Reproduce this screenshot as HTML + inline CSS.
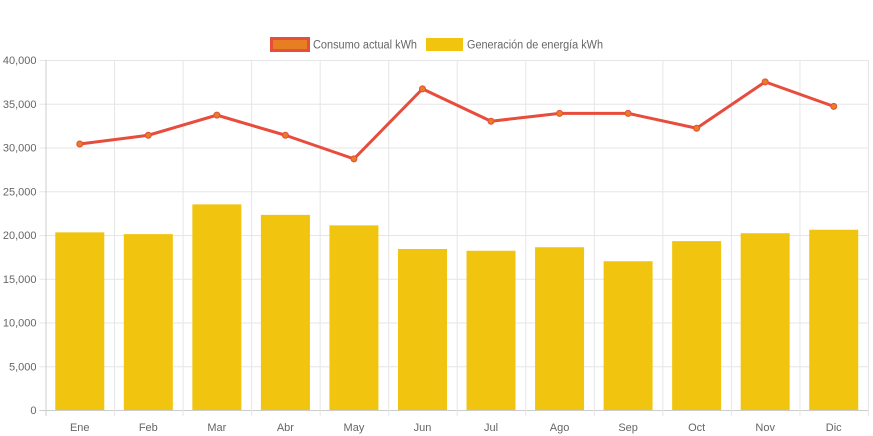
<!DOCTYPE html>
<html><head><meta charset="utf-8"><style>
html,body{margin:0;padding:0;background:#fff;}
svg{display:block;font-family:"Liberation Sans",sans-serif;}
</style></head><body>
<svg id="chart" width="873" height="436" viewBox="0 0 873 436">
<g id="legend">
<g>
<rect x="271.5" y="38.5" width="37" height="12" fill="#e67e22" stroke="#e74c3c" stroke-width="3"/>
<text x="313" y="48.5" font-size="11.5" fill="#666" textLength="104" lengthAdjust="spacingAndGlyphs">Consumo actual kWh</text></g>
<g>
<rect x="426" y="38" width="37" height="13" fill="#f1c40f"/>
<text x="467" y="48.5" font-size="11.5" fill="#666" textLength="136" lengthAdjust="spacingAndGlyphs">Generación de energía kWh</text></g>
</g>
<g id="grid"></g>
<g id="bars"></g>
<g id="line"></g>
<g id="axes"></g>
</svg>
<script>
const categories=["Ene","Feb","Mar","Abr","May","Jun","Jul","Ago","Sep","Oct","Nov","Dic"];
const generacion=[20300,20100,23500,22300,21100,18400,18200,18600,17000,19300,20200,20600];
const consumo=[30400,31400,33700,31400,28700,36700,33000,33900,33900,32200,37500,34700];
const yTicks=[0,5000,10000,15000,20000,25000,30000,35000,40000];
const yTickLabels=["0","5,000","10,000","15,000","20,000","25,000","30,000","35,000","40,000"];
const NS="http://www.w3.org/2000/svg";
const L=45.5,R=868,T=60,B=410,yMax=40000;
const band=(R-L)/categories.length;
const x=i=>L+band*(i+0.5);
const y=v=>B-(v/yMax)*(B-T);
function mk(tag,attrs,parent){const e=document.createElementNS(NS,tag);for(const k in attrs)e.setAttribute(k,attrs[k]);parent.appendChild(e);return e;}
const grid=document.getElementById('grid'),bars=document.getElementById('bars'),line=document.getElementById('line'),axes=document.getElementById('axes');
yTicks.forEach((t,i)=>{
 const g=mk('line',{x1:L-6,x2:R,y1:y(t)+0.5,y2:y(t)+0.5,stroke:i==0?'#ccc':'#e6e6e6','stroke-width':1},grid);
 
 
 const tx=mk('text',{x:L-9,y:y(t)+4,'text-anchor':'end','font-size':11,fill:'#666'},axes);
 tx.textContent=yTickLabels[i];
 
 
});
for(let i=0;i<=categories.length;i++){
 const g=mk('line',{x1:L+band*i+0.5,x2:L+band*i+0.5,y1:T,y2:B+6,stroke:i==0?'#ccc':'#e6e6e6','stroke-width':1},grid);
 
 
}
categories.forEach((c,i)=>{
 const bw=49;
 const r=mk('rect',{x:x(i)-bw/2,y:y(generacion[i]),width:bw,height:B-y(generacion[i]),fill:'#f1c40f'},bars);
 
 
 const tx=mk('text',{x:x(i),y:431,'text-anchor':'middle','font-size':11,fill:'#666'},axes);
 tx.textContent=c;
 
 
});
const p=mk('polyline',{points:consumo.map((v,i)=>x(i)+','+y(v)).join(' '),fill:'none',stroke:'#e74c3c','stroke-width':3,'stroke-linejoin':'round'},line);


consumo.forEach((v,i)=>{
 const c=mk('circle',{cx:x(i),cy:y(v),r:3,fill:'#e67e22',stroke:'#e74c3c','stroke-width':1},line);
 
 
});
</script>
</body></html>
